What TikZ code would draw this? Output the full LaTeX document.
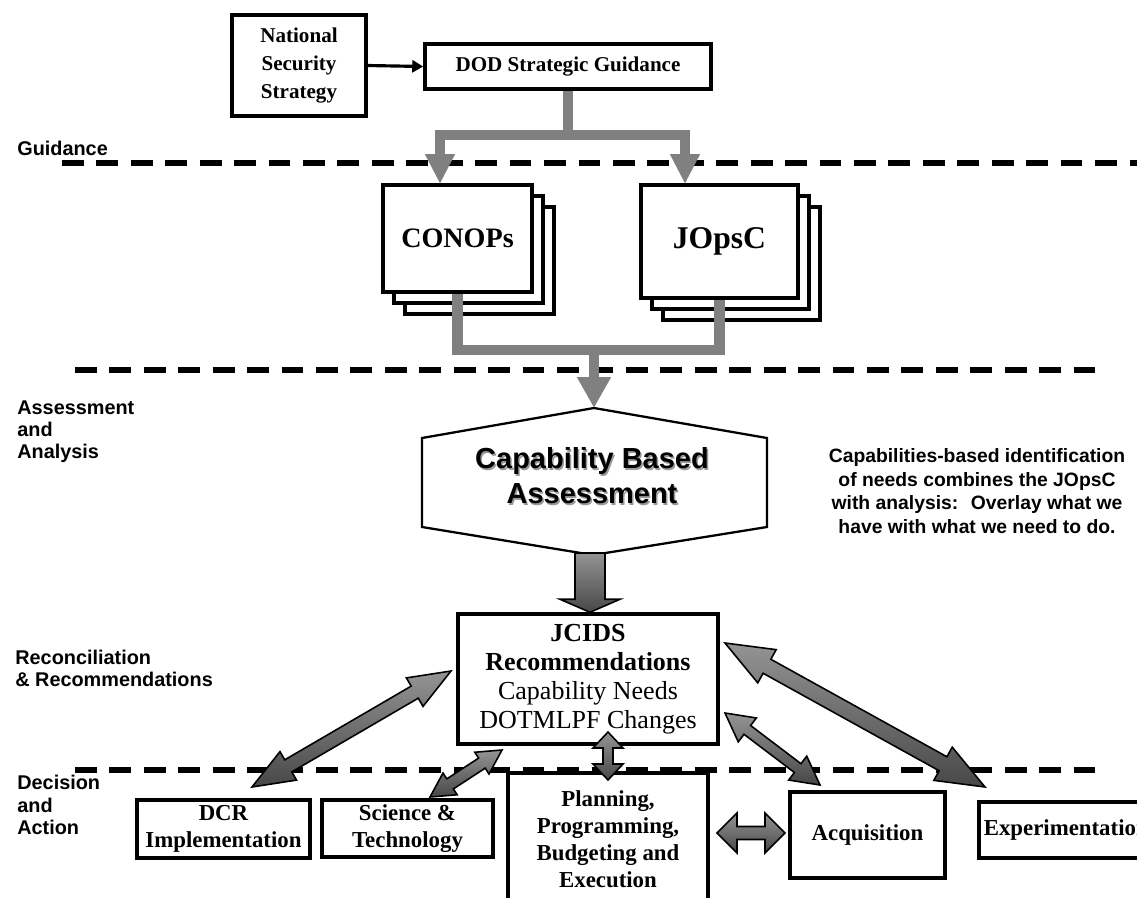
\documentclass[tikz,border=0pt]{standalone}
\usepackage{fontspec}
\setmainfont{Liberation Serif}
\setsansfont{Liberation Sans}
\usetikzlibrary{calc,arrows.meta,shadows}
\def\twoway(#1)(#2)(#3:#4:#5){\draw[blockarrow] (#1) -- ($(#1)!#3!(#2)!#4!90:(#2)$) -- ($(#1)!#3!(#2)!#5!90:(#2)$) -- ($(#2)!#3!(#1)!#5!-90:(#1)$) -- ($(#2)!#3!(#1)!#4!-90:(#1)$) -- (#2) -- ($(#2)!#3!(#1)!#4!90:(#1)$) -- ($(#2)!#3!(#1)!#5!90:(#1)$) -- ($(#1)!#3!(#2)!#5!-90:(#2)$) -- ($(#1)!#3!(#2)!#4!-90:(#2)$) -- cycle;}
\def\oneway(#1)(#2)(#3:#4:#5){\draw[blockarrow] ($(#1)!#5!90:(#2)$) -- ($(#2)!#3!(#1)!#5!-90:(#1)$) -- ($(#2)!#3!(#1)!#4!-90:(#1)$) -- (#2) -- ($(#2)!#3!(#1)!#4!90:(#1)$) -- ($(#2)!#3!(#1)!#5!90:(#1)$) -- ($(#1)!#5!-90:(#2)$) -- cycle;}

\begin{document}
\begin{tikzpicture}[x=0.02cm, y=-0.02cm,
	box/.style={draw, line width=2pt, fill=white, align=center, inner sep=0pt, font=\bfseries\fontsize{13}{15.3}\selectfont},
	paperstack/.style={draw, line width=2pt, fill=white, inner sep=0pt, font=\bfseries\fontsize{16}{19}\selectfont,
		general shadow={shadow xshift=0.44cm, shadow yshift=-0.44cm, fill=white, draw=black, line width=2pt},
		general shadow={shadow xshift=0.22cm, shadow yshift=-0.22cm, fill=white, draw=black, line width=2pt}},
	tier/.style={line width=3.4pt, dash pattern=on 12.4pt off 7.2pt},
	feed/.style={draw=black!50, line width=5.7pt},
	blockarrow/.style={draw=black, line width=0.9pt, line join=miter, top color=black!42, bottom color=black!72},
	tierlabel/.style={anchor=west, align=left, inner sep=0pt, font=\sffamily\bfseries\fontsize{11.3}{12.6}\selectfont}]
			%%%%% FRAME %%%%%
			\useasboundingbox (0,0) rectangle (1137,897);
			\clip (0,0) rectangle (1137,897);
			
			\draw[tier] (62,163) -- (1137,163);
			\draw[tier] (75,370) -- (1105,370);
			\draw[tier] (75,770) -- (1105,770);
			
			\node[tierlabel] (lblGuide) at (17,148) {Guidance};
			\node[tierlabel] (lblAssess) at (17,432) {Assessment\\and\\Analysis};
			\node[tierlabel] (lblRecon) at (15,668) {Reconciliation\\\& Recommendations};
			\node[tierlabel] (lblDecide) at (17,805) {Decision\\and\\Action};
			
			%%%%% GUIDANCE %%%%%
			\node[box, minimum width=2.68cm, minimum height=2.02cm, font=\bfseries\fontsize{12}{15.9}\selectfont] (nss) at (299,65.5) {National\\Security\\Strategy};
			\node[box, minimum width=5.72cm, minimum height=0.9cm, font=\bfseries\fontsize{12}{14}\selectfont] (dod) at (568,66.5) {DOD Strategic Guidance};
			\draw[line width=1.8pt, -{Triangle[width=0.24cm,length=0.22cm]}] (nss.east) -- (dod.west);
			
			\node[paperstack, minimum width=2.98cm, minimum height=2.14cm] (conops) at (457.5,238.5) {CONOPs};
			\node[paperstack, minimum width=3.14cm, minimum height=2.26cm, font=\bfseries\fontsize{18}{21}\selectfont] (jopsc) at (719.5,241.5) {JOpsC};
			
			\coordinate (fork) at (568,135);
			\coordinate (conopsIn) at (440,184);
			\coordinate (jopscIn) at (685,184);
			\draw[feed] (dod.south) -- (fork);
			\draw[feed, -{Triangle[width=0.56cm,length=0.6cm]}] (fork) -| (conopsIn);
			\draw[feed, -{Triangle[width=0.56cm,length=0.6cm]}] (fork) -| (jopscIn);
			
			%%%%% ASSESSMENT %%%%%
			\coordinate (merge) at (594,350);
			\coordinate (cbaTop) at (594,408);
			\draw[feed] (conops.south) |- (merge) -| (jopsc.south);
			\draw[line width=1.3pt, fill=white] (cbaTop) -- (767,438) -- (767,527) -- (593,555) -- (422,527) -- (422,438) -- cycle;
			\draw[feed, -{Triangle[width=0.64cm,length=0.62cm]}] (merge) -- (cbaTop);
			\node[text=black!40, align=center, font=\sffamily\bfseries\fontsize{16.5}{20}\selectfont] (cbaShade) at (593.5,477.5) {Capability Based\\Assessment};
			\node[align=center, font=\sffamily\bfseries\fontsize{16.5}{20}\selectfont] (cba) at (592,476) {Capability Based\\Assessment};
			
			\node[align=center, font=\sffamily\bfseries\fontsize{11}{13.4}\selectfont] (note) at (977,491) {Capabilities-based identification\\of needs combines the JOpsC\\with analysis:~ Overlay what we\\have with what we need to do.};
			
			%%%%% RECOMMENDATIONS %%%%%
			\node[box, minimum width=5.2cm, minimum height=2.6cm, font=\fontsize{14.8}{16.5}\selectfont] (jcids) at (588,679) {\textbf{JCIDS}\\\textbf{Recommendations}\\Capability Needs\\DOTMLPF Changes};
			\coordinate (cbaBot) at (590,553);
			\oneway(cbaBot)(cbaBot |- jcids.north)(0.26cm:0.6cm:0.3cm);
			
			%%%%% DECISION %%%%%
			\node[box, minimum width=3.46cm, minimum height=1.16cm] (dcr) at (223.5,829) {DCR\\Implementation};
			\node[box, minimum width=3.42cm, minimum height=1.14cm] (scitech) at (407.5,828.5) {Science \&\\Technology};
			\node[box, minimum width=4cm, minimum height=2.64cm] (ppbe) at (608,839) {Planning,\\Programming,\\Budgeting and\\Execution};
			\node[box, minimum width=3.1cm, minimum height=1.72cm] (acq) at (867.5,835) {Acquisition};
			\node[box, anchor=west, minimum width=3.5cm, minimum height=1.12cm, inner xsep=0.08cm] (exper) at (977,830) {Experimentation};
			
			\coordinate (jcidsW) at (451,671);
			\coordinate (dcrN) at (252,787);
			\coordinate (jcidsSW) at (502,750);
			\coordinate (scitechN) at (430,797);
			\coordinate (jcidsS) at (608,732);
			\coordinate (ppbeN) at (608,780);
			\coordinate (ppbeE) at (717,833);
			\coordinate (acqW) at (785,833);
			\coordinate (jcidsE) at (725,713);
			\coordinate (acqN) at (820,785);
			\coordinate (jcidsNE) at (725,643);
			\coordinate (experN) at (985,787);
			
			\twoway(jcidsW)(dcrN)(0.84cm:0.33cm:0.14cm);
			\twoway(jcidsSW)(scitechN)(0.48cm:0.26cm:0.12cm);
			\twoway(jcidsS)(ppbeN)(0.32cm:0.3cm:0.1cm);
			\twoway(ppbeE)(acqW)(0.4cm:0.4cm:0.13cm);
			\twoway(jcidsE)(acqN)(0.56cm:0.3cm:0.11cm);
			\twoway(jcidsNE)(experN)(0.96cm:0.38cm:0.16cm);
\end{tikzpicture}
\end{document}
